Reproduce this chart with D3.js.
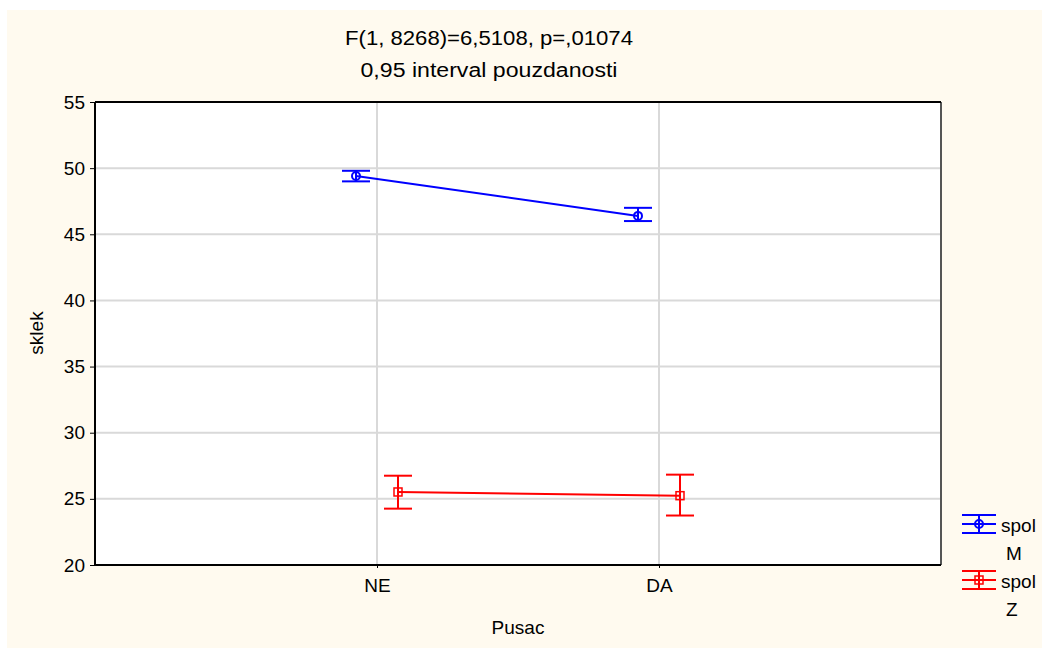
<!DOCTYPE html>
<html><head><meta charset="utf-8">
<script src="https://cdn.jsdelivr.net/npm/d3@7"></script>
<style>body{margin:0;background:#fff}svg{display:block}text{font-family:"Liberation Sans",Arial,sans-serif;fill:#000}</style>
</head><body><svg id="c" width="1042" height="648"></svg>
<script>
const categories = ["NE", "DA"];
const seriesNames = ["M", "Z"];
const meansM = [49.41, 46.39];
const lowM = [49.0, 46.0];
const highM = [49.8, 47.0];
const meansZ = [25.52, 25.24];
const lowZ = [24.26, 23.74];
const highZ = [26.75, 26.83];
const yTicks = [20, 25, 30, 35, 40, 45, 50, 55];
const title1 = "F(1, 8268)=6,5108, p=,01074";
const title2 = "0,95 interval pouzdanosti";

const FS = 19;
const svg = d3.select("#c");
svg.append("rect").attr("x",7).attr("y",10).attr("width",1035).attr("height",638).attr("fill","#fffaef");
const L=95,R=941,T=102,B=565;
svg.append("rect").attr("x",L).attr("y",T).attr("width",R-L).attr("height",B-T).attr("fill","#fff");
const x = d3.scalePoint().domain(categories).range([L,R]).padding(1);
const y = d3.scaleLinear().domain([20,55]).range([B,T]);

// grid
svg.append("g").selectAll("line").data(yTicks.slice(1,-1)).join("line")
  .attr("x1",L).attr("x2",R).attr("y1",d=>y(d)).attr("y2",d=>y(d)).attr("stroke","#d9d9d9").attr("stroke-width",2);
svg.append("g").selectAll("line").data(categories).join("line")
  .attr("x1",d=>x(d)).attr("x2",d=>x(d)).attr("y1",T).attr("y2",B).attr("stroke","#d9d9d9").attr("stroke-width",2);

// axes
const yAxis = svg.append("g").attr("transform",`translate(${L},0)`).call(d3.axisLeft(y).tickValues(yTicks).tickSize(5).tickPadding(5));
yAxis.select(".domain").remove();
yAxis.selectAll("line").attr("stroke","#000");
yAxis.selectAll("text").attr("font-size",FS).attr("font-family","Liberation Sans, Arial, sans-serif").attr("fill","#000");
const xAxis = svg.append("g").attr("transform",`translate(0,${B})`).call(d3.axisBottom(x).tickSize(3).tickPadding(11));
xAxis.select(".domain").remove();
xAxis.selectAll("line").attr("stroke","#000");
xAxis.selectAll("text").attr("font-size",FS).attr("font-family","Liberation Sans, Arial, sans-serif").attr("fill","#000");

// frame
svg.append("line").attr("x1",R).attr("x2",R).attr("y1",T).attr("y2",B).attr("stroke","#555").attr("stroke-width",2);
svg.append("path").attr("d",`M${L},${T}H${R}M${L},${T}V${B}H${R}`).attr("fill","none").attr("stroke","#000").attr("stroke-width",2);

// series
const series = [
  {name:"M", color:"#0000ff", off:-21, means:meansM, lo:lowM, hi:highM, marker:"circle"},
  {name:"Z", color:"#ff0000", off:21, means:meansZ, lo:lowZ, hi:highZ, marker:"square"}
];
const cap=14;
series.forEach(s=>{
  const g = svg.append("g");
  const pts = categories.map((c,i)=>({cx:x(c)+s.off, m:s.means[i], lo:s.lo[i], hi:s.hi[i]}));
  g.append("path").datum(pts).attr("fill","none").attr("stroke",s.color).attr("stroke-width",2)
    .attr("d",d3.line().x(d=>d.cx).y(d=>y(d.m)));
  pts.forEach(p=>{
    g.append("line").attr("x1",p.cx).attr("x2",p.cx).attr("y1",y(p.lo)).attr("y2",y(p.hi)).attr("stroke",s.color).attr("stroke-width",2);
    [p.lo,p.hi].forEach(v=>g.append("line").attr("x1",p.cx-cap).attr("x2",p.cx+cap).attr("y1",y(v)).attr("y2",y(v)).attr("stroke",s.color).attr("stroke-width",2));
    if(s.marker==="circle") g.append("circle").attr("cx",p.cx).attr("cy",y(p.m)).attr("r",4).attr("fill","none").attr("stroke",s.color).attr("stroke-width",2);
    else g.append("rect").attr("x",p.cx-4).attr("y",y(p.m)-4).attr("width",8).attr("height",8).attr("fill","none").attr("stroke",s.color).attr("stroke-width",1.5);
  });
});

// titles
svg.append("text").attr("x",489).attr("y",45).attr("text-anchor","middle").attr("font-size",20)
  .attr("textLength",288).attr("lengthAdjust","spacingAndGlyphs").text(title1);
svg.append("text").attr("x",489).attr("y",77).attr("text-anchor","middle").attr("font-size",20)
  .attr("textLength",257).attr("lengthAdjust","spacingAndGlyphs").text(title2);
svg.append("text").attr("transform","translate(43,333) rotate(-90)").attr("text-anchor","middle").attr("font-size",FS).text("sklek");
svg.append("text").attr("x",518).attr("y",634).attr("text-anchor","middle").attr("font-size",FS).text("Pusac");

// legend
series.forEach((s,i)=>{
  const cy = 524 + i*56, cx = 979;
  const g = svg.append("g");
  g.append("line").attr("x1",cx).attr("x2",cx).attr("y1",cy-9).attr("y2",cy+9).attr("stroke",s.color).attr("stroke-width",2);
  [-9,0,9].forEach(dy=>g.append("line").attr("x1",cx-17).attr("x2",cx+17).attr("y1",cy+dy).attr("y2",cy+dy).attr("stroke",s.color).attr("stroke-width",2));
  if(s.marker==="circle") g.append("circle").attr("cx",cx).attr("cy",cy).attr("r",4).attr("fill","none").attr("stroke",s.color).attr("stroke-width",2);
  else g.append("rect").attr("x",cx-4).attr("y",cy-4).attr("width",8).attr("height",8).attr("fill","none").attr("stroke",s.color).attr("stroke-width",1.5);
  g.append("text").attr("x",1001).attr("y",cy+8).attr("font-size",FS).text("spol");
  g.append("text").attr("x",1006).attr("y",cy+36).attr("font-size",FS).text(s.name);
});
</script></body></html>
